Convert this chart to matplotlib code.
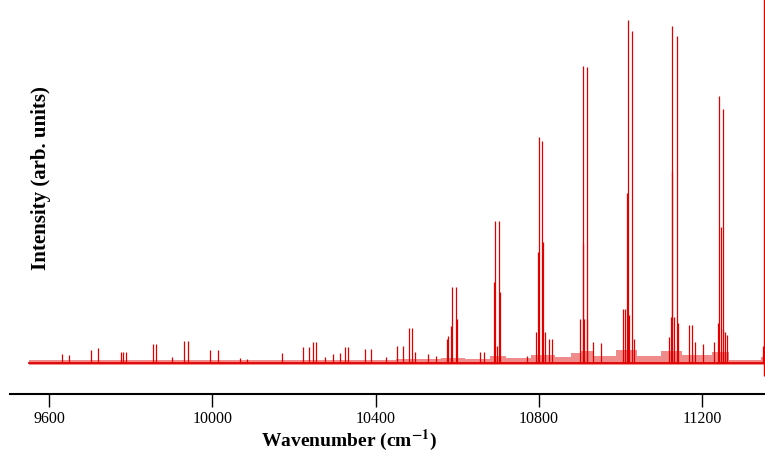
import numpy as np
import matplotlib.pyplot as plt

plt.rcParams['font.family'] = ['Liberation Serif', 'DejaVu Serif']
plt.rcParams['mathtext.fontset'] = 'stix'

# line positions (cm^-1) and peak heights (arb. units)
peak_wn = [9633, 9648, 9703, 9719, 9776, 9782, 9789, 9855, 9863, 9901,
           9932, 9940, 9995, 10013, 10068, 10086, 10172, 10222, 10237, 10246,
           10254, 10276, 10295, 10313, 10326, 10333, 10375, 10388, 10426, 10452,
           10468, 10483, 10490, 10497, 10529, 10547, 10574, 10578, 10584, 10587,
           10598, 10600, 10656, 10666, 10689, 10692, 10697, 10703, 10706, 10770,
           10794, 10799, 10801, 10807, 10810, 10814, 10824, 10832, 10901, 10907,
           10909, 10911, 10917, 10919, 10932, 10952, 11007, 11011, 11015, 11018,
           11022, 11028, 11033, 11120, 11123, 11125, 11127, 11132, 11139, 11141,
           11169, 11175, 11183, 11202, 11228, 11238, 11242, 11245, 11250, 11252,
           11255, 11260, 11350]
peak_int = [9, 8, 13, 15, 11, 11, 11, 19, 19, 6,
            22, 22, 13, 13, 5, 4, 10, 16, 16, 21,
            21, 6, 9, 10, 16, 16, 14, 14, 6, 17,
            17, 35, 35, 11, 9, 7, 24, 27, 37, 76,
            76, 44, 11, 11, 81, 142, 17, 142, 71, 7,
            31, 111, 226, 222, 121, 31, 24, 24, 44, 297,
            120, 44, 296, 44, 21, 20, 54, 54, 170, 343,
            48, 332, 24, 26, 46, 192, 337, 46, 327, 40,
            38, 38, 21, 19, 21, 40, 267, 136, 254, 34,
            31, 28, 17]

# dense rotational background: level per wavenumber segment
bg_edges = [9551, 10450, 10560, 10620, 10680, 10720, 10780, 10840, 10880,
            10900, 10935, 10990, 11040, 11100, 11150, 11225, 11265, 11345, 11352]
bg_level = [3, 4, 5, 4, 7, 5, 8, 6, 10, 12, 7, 13, 7, 12, 8, 11, 3, 6]

# last point of the scan: spike running off the top, dipping below baseline
end_wn = 11352
end_top = 400
end_bottom = -13

fig = plt.figure(figsize=(7.65, 4.52), dpi=100)
ax = fig.add_axes([10 / 765, 57 / 452, 755 / 765, 395 / 452])

red = '#e00000'
lvl = bg_level + [bg_level[-1]]
ax.fill_between(bg_edges, -2, lvl, step='post', color='#e01818', alpha=0.5, lw=0)
ax.plot([bg_edges[0], bg_edges[-1]], [0, 0], color=red, lw=1.3)
ax.vlines(peak_wn, 0, peak_int, color=red, lw=0.9)
ax.vlines([end_wn], end_bottom, end_top, color=red, lw=1.0)

ax.set_xlim(9504.6, 11354)
ax.set_ylim(-31, 364)

for s in ('top', 'left', 'right'):
    ax.spines[s].set_visible(False)
ax.spines['bottom'].set_linewidth(1.5)
ax.set_yticks([])
ax.set_xticks([9600, 10000, 10400, 10800, 11200])
ax.tick_params(axis='x', direction='out', length=9.5, width=1.0, pad=2, labelsize=11.5)

fig.text(349.5 / 765, 1 - 440 / 452, r'Wavenumber (cm$^{\mathbf{-1}}$)',
         ha='center', va='center', fontsize=14, fontweight='bold')
fig.text(41 / 765, 1 - 178.5 / 452, 'Intensity (arb. units)', rotation=90,
         ha='center', va='center', fontsize=15, fontweight='bold')

fig.savefig('out.png', dpi=100)
